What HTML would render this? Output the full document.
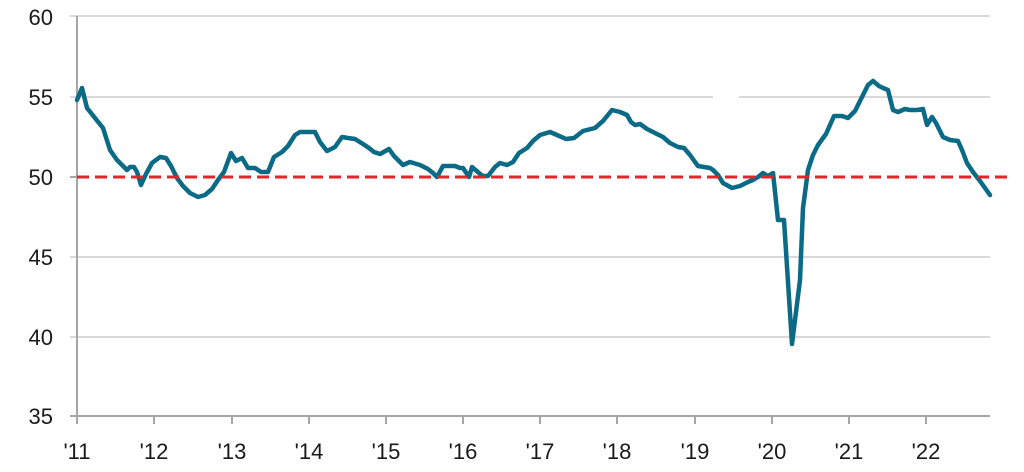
<!DOCTYPE html>
<html><head><meta charset="utf-8"><style>
html,body{margin:0;padding:0;background:#fff;}
svg{display:block;font-family:"Liberation Sans",Arial,sans-serif;}
</style></head><body>
<svg width="1024" height="472" viewBox="0 0 1024 472">
<g stroke="#d9d9d9" stroke-width="2">
<line x1="70" y1="16" x2="990" y2="16"/>
<line x1="70" y1="97" x2="713" y2="97"/><line x1="739" y1="97" x2="990" y2="97"/>
<line x1="70" y1="257" x2="990" y2="257"/>
<line x1="70" y1="337" x2="990" y2="337"/>
</g>
<g stroke="#a6a6a6" stroke-width="2">
<line x1="77" y1="16" x2="77" y2="424"/>
<line x1="70" y1="416" x2="990" y2="416"/>
<line x1="70" y1="177" x2="77" y2="177"/>
<line x1="154" y1="416" x2="154" y2="424"/><line x1="232" y1="416" x2="232" y2="424"/>
<line x1="309" y1="416" x2="309" y2="424"/><line x1="386" y1="416" x2="386" y2="424"/>
<line x1="463" y1="416" x2="463" y2="424"/><line x1="540" y1="416" x2="540" y2="424"/>
<line x1="617" y1="416" x2="617" y2="424"/><line x1="695" y1="416" x2="695" y2="424"/>
<line x1="772" y1="416" x2="772" y2="424"/><line x1="849" y1="416" x2="849" y2="424"/>
<line x1="926" y1="416" x2="926" y2="424"/>
</g>
<g font-size="22" fill="#1a1a1a" text-anchor="end">
<text x="53" y="25">60</text><text x="53" y="105">55</text><text x="53" y="185">50</text>
<text x="53" y="265">45</text><text x="53" y="345">40</text><text x="53" y="424">35</text>
</g>
<g font-size="22" fill="#1a1a1a" text-anchor="middle">
<text x="77" y="459">'11</text><text x="154" y="459">'12</text><text x="232" y="459">'13</text>
<text x="309" y="459">'14</text><text x="386" y="459">'15</text><text x="463" y="459">'16</text>
<text x="540" y="459">'17</text><text x="617" y="459">'18</text><text x="695" y="459">'19</text>
<text x="772" y="459">'20</text><text x="849" y="459">'21</text><text x="926" y="459">'22</text>
</g>
<polyline fill="none" stroke="#0b6a85" stroke-width="4.5" stroke-linejoin="round" stroke-linecap="round" points="77,100 82,88 87,108 95,118 103,128 110,150 117,160 122,165 127,170 130,167 134,167 137,172 141,185 146,174 152,163 160,157 166,158 171,166 177,178 183,186 190,193 198,197 205,195 212,189 218,180 224,172 231,153 236,161 242,158 248,168 255,168 261,172 268,172 274,157 282,152 288,146 295,135 300,132 315,132 320,142 327,151 335,147 342,137 348,138 355,139 363,144 369,148 374,152 380,154 389,149 394,156 403,165 410,162 420,165 428,169 433,173 437,177 443,166 450,166 455,166 460,168 463,168 469,177 472,167 479,173 483,176 488,176 495,167 500,163 507,165 513,162 519,153 527,148 533,141 540,135 550,132 557,135 566,139 574,138 583,131 595,128 603,121 612,110 620,112 627,115 631,122 635,125 640,124 647,129 655,133 663,137 670,143 678,147 684,148 690,155 695,162 698,166 710,168 713,170 718,175 723,183 732,188 740,186 748,182 753,180 758,177 763,173 768,176 773,173 778,220 784,220 792,344 800,280 803,208 808,170 813,155 818,145 826,134 834,116 842,116 848,118 855,111 862,97 868,85 873,81 879,86 883,88 888,90 893,110 898,112 905,109 910,110 917,110 923,109 927,125 932,117 936,123 943,137 950,140 958,141 962,150 967,163 973,172 980,181 990,195"/>
<line x1="77" y1="177" x2="1008" y2="177" stroke="#e0262a" stroke-width="3" stroke-dasharray="12,6"/>
</svg>
</body></html>
